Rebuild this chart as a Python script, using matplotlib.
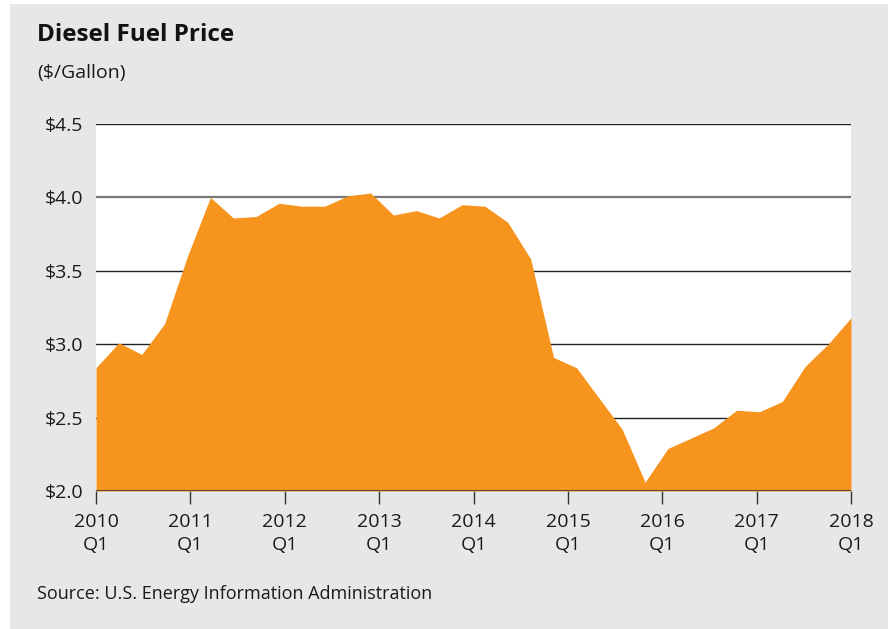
import numpy as np
import matplotlib.pyplot as plt
from matplotlib.patches import Rectangle

plt.rcParams['font.family'] = ['Open Sans', 'DejaVu Sans']

# Quarterly diesel price, $/gallon (2010 Q1 onward)
prices = [2.84, 3.01, 2.93, 3.14,
          3.60, 4.00, 3.86, 3.87,
          3.96, 3.94, 3.94, 4.01,
          4.03, 3.88, 3.91, 3.86,
          3.95, 3.94, 3.83, 3.58,
          2.91, 2.84, 2.63, 2.42,
          2.06, 2.29, 2.36, 2.43,
          2.55, 2.54, 2.61, 2.85,
          3.00, 3.18]
years = ['2010', '2011', '2012', '2013', '2014', '2015', '2016', '2017', '2018']
y_ticks = [2.0, 2.5, 3.0, 3.5, 4.0, 4.5]

orange = '#f7941d'
grey_bg = '#e6e7e8'

fig = plt.figure(figsize=(8.88, 6.29), dpi=100)
fig.patch.set_facecolor('white')

# grey panel behind everything
fig.patches.append(Rectangle((10/888, 0), 1, 1 - 4/629, transform=fig.transFigure,
                             facecolor=grey_bg, edgecolor='none', zorder=-10))

ax = fig.add_axes([96/888, 1 - 491/629, 755/888, 367/629])
ax.set_facecolor('white')

x = np.arange(len(prices))
n = len(prices) - 1
ax.fill_between(x, prices, 2.0, color=orange, lw=0, zorder=3)

# grid lines
for v in y_ticks[1:]:
    c = '#777777' if v == 4.0 else '#222222'
    lw = 1.6 if v == 4.0 else 1.0
    ax.axhline(v, color=c, lw=lw, zorder=2)
ax.axhline(2.0, color='#333333', lw=1.2, zorder=4)

ax.set_xlim(0, n)
ax.set_ylim(2.0, 4.5)
for s in ax.spines.values():
    s.set_visible(False)

ax.set_yticks(y_ticks)
ax.set_yticklabels(['$%.1f' % v for v in y_ticks], fontsize=14, color='#1a1a1a')
ax.tick_params(axis='y', length=0, pad=9)

ax.set_xticks(np.linspace(0, n, len(years)))
ax.set_xticklabels([y + '\nQ1' for y in years], fontsize=14, color='#1a1a1a',
                   linespacing=1.35)
ax.tick_params(axis='x', length=9, width=1, color='#333333', pad=7)

fig.text(37/888, 1 - 35/629, 'Diesel Fuel Price', fontsize=17.5, fontweight='bold',
         va='center', ha='left', color='#111111')
fig.text(37/888, 1 - 73/629, '($/Gallon)', fontsize=14, va='center', ha='left',
         color='#1a1a1a')
fig.text(37/888, 1 - 594/629, 'Source: U.S. Energy Information Administration',
         fontsize=13, va='center', ha='left', color='#1a1a1a')

fig.savefig('out.png', dpi=100, facecolor=fig.get_facecolor())
